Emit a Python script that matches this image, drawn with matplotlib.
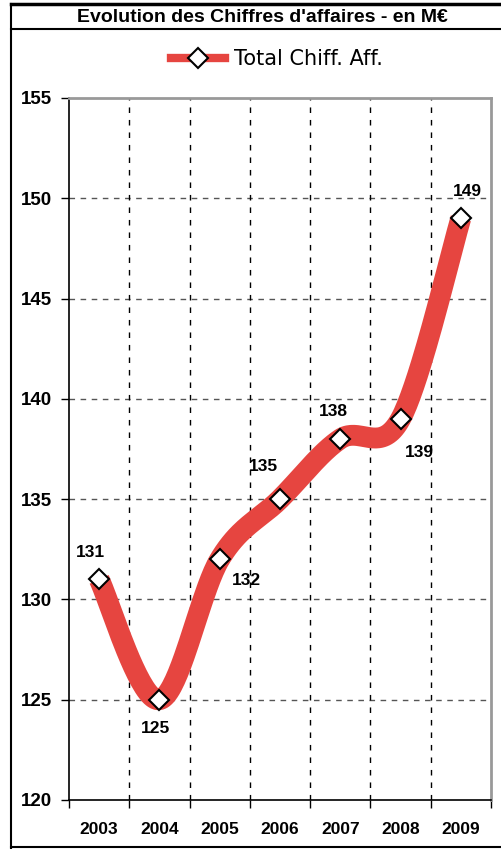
import numpy as np
import matplotlib.pyplot as plt
from matplotlib.lines import Line2D

annees = ["2003", "2004", "2005", "2006", "2007", "2008", "2009"]
chiffre_affaires = [131, 125, 132, 135, 138, 139, 149]
y_ticks = [120, 125, 130, 135, 140, 145, 150, 155]

# décalage des étiquettes (pixels)
decalages = [(-9, -27), (-4, 29), (27, 21), (-17, -33), (-7, -27), (19, 34), (7, -27)]

rouge = "#e64540"

def courbe_lissee(xs, ys, n=40):
    # lissage type Excel (Bézier, points de contrôle à 1/6)
    pts = np.column_stack([xs, ys]).astype(float)
    out = []
    for i in range(len(pts) - 1):
        p0 = pts[max(i - 1, 0)]
        p1 = pts[i]
        p2 = pts[i + 1]
        p3 = pts[min(i + 2, len(pts) - 1)]
        c1 = p1 + (p2 - p0) / 6
        c2 = p2 - (p3 - p1) / 6
        t = np.linspace(0, 1, n)[:, None]
        seg = (1 - t) ** 3 * p1 + 3 * (1 - t) ** 2 * t * c1 + 3 * (1 - t) * t ** 2 * c2 + t ** 3 * p2
        out.append(seg if i == 0 else seg[1:])
    out = np.vstack(out)
    return out[:, 0], out[:, 1]

fig = plt.figure(figsize=(5.02, 8.49), dpi=100)
W, H = 502, 849
ax = fig.add_axes([69 / W, 1 - 800 / H, (491 - 69) / W, (800 - 98) / H])

x = np.arange(len(annees))
xs, ys = courbe_lissee(x, chiffre_affaires)
ax.plot(xs, ys, color=rouge, lw=15, solid_capstyle="butt", zorder=3)
ax.plot(x, chiffre_affaires, ls="none", marker="D", ms=10, mfc="white",
        mec="black", mew=1.5, zorder=4)

for xi, v, (dx, dy) in zip(x, chiffre_affaires, decalages):
    ax.annotate(str(v), (xi, v), xytext=(dx, -dy), textcoords="offset pixels",
                ha="center", va="center", fontsize=12.5, fontweight="bold",
                family="Liberation Sans", zorder=5)

ax.set_xlim(-0.5, len(annees) - 0.5)
ax.set_ylim(120, 155)

for v in y_ticks[1:-1]:
    ax.axhline(v, color="#555555", lw=1, ls=(0, (4, 4)), zorder=1)
for b in np.arange(0.5, len(annees) - 1, 1):
    ax.axvline(b, color="black", lw=1, ls=(0, (4, 5)), zorder=1)

ax.set_yticks(y_ticks)
ax.set_yticklabels([str(v) for v in y_ticks], fontsize=13.5, fontweight="bold",
                   family="Liberation Sans")
ax.set_xticks(np.arange(-0.5, len(annees), 1))
ax.set_xticklabels([])
ax.set_xticks(x, minor=True)
ax.set_xticklabels(annees, minor=True, fontsize=12.5, fontweight="bold",
                   family="Liberation Sans")
ax.tick_params(axis="x", which="major", length=6, width=1, direction="out")
ax.tick_params(axis="x", which="minor", length=0, pad=16)
ax.tick_params(axis="y", length=6, width=1, direction="out", pad=6)

for s in ["left", "bottom"]:
    ax.spines[s].set_color("black")
    ax.spines[s].set_linewidth(1.2)
for s in ["top", "right"]:
    ax.spines[s].set_color("#999999")
    ax.spines[s].set_linewidth(2)

# cadre et titre
fig.add_artist(Line2D([11 / W, 1], [1 - 4 / H, 1 - 4 / H], color="black", lw=2.5))
fig.add_artist(Line2D([11 / W, 11 / W], [1 - 4 / H, 1 - 848 / H], color="black", lw=1.5))
fig.add_artist(Line2D([11 / W, 1], [1 - 29 / H, 1 - 29 / H], color="black", lw=1.5))
fig.add_artist(Line2D([11 / W, 1], [1 - 847 / H, 1 - 847 / H], color="black", lw=1.5))
fig.text(262 / W, 1 - 17 / H, "Evolution des Chiffres d'affaires - en M€", ha="center",
         va="center", fontsize=14, fontweight="bold", family="Liberation Sans")

poignee = Line2D([], [], color=rouge, lw=6, marker="D", ms=10, mfc="white",
                 mec="black", mew=1.5)
fig.legend([poignee], ["Total Chiff. Aff."], loc="center", bbox_to_anchor=(277 / W, 1 - 59 / H),
           frameon=False, prop={"family": "DejaVu Sans", "size": 15},
           handlelength=2.6, handletextpad=0.4)

fig.savefig("out.png", dpi=100)
